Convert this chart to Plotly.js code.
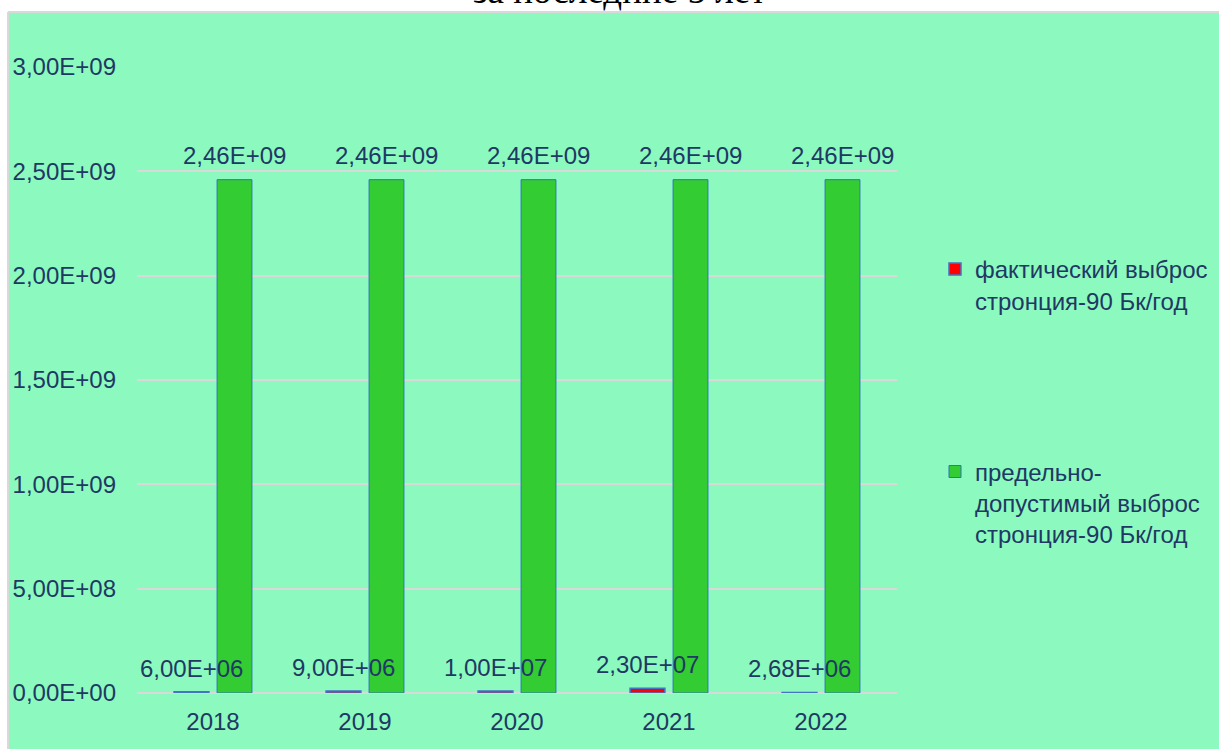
<!DOCTYPE html>
<html><head><meta charset="utf-8">
<script src="https://cdn.plot.ly/plotly-3.0.1.min.js"></script>
<style>html,body{margin:0;padding:0;background:#fff;}#chart{width:1219px;height:749px;}</style>
</head><body><div id="chart"></div>
<script>
const years = ['2018','2019','2020','2021','2022'];
const actual = [6.00e6, 9.00e6, 1.00e7, 2.30e7, 2.68e6];
const actualLabels = ['6,00E+06','9,00E+06','1,00E+07','2,30E+07','2,68E+06'];
const limit = [2.46e9, 2.46e9, 2.46e9, 2.46e9, 2.46e9];
const limitLabels = ['2,46E+09','2,46E+09','2,46E+09','2,46E+09','2,46E+09'];
const yTickVals = [0, 5e8, 1e9, 1.5e9, 2e9, 2.5e9, 3e9];
const yTickText = ['0,00E+00','5,00E+08','1,00E+09','1,50E+09','2,00E+09','2,50E+09','3,00E+09'];
const seriesNames = ['фактический выброс<br>стронция-90 Бк/год','предельно-<br>допустимый выброс<br>стронция-90 Бк/год'];
const titleText = 'за последние 5 лет';

const txt = '#203864';
const fam = '"Liberation Sans", Arial, sans-serif';

const traces = [
  {type:'bar', x:years, y:actual, name:seriesNames[0], legendgroup:'a',
   marker:{color:'#FF0000', line:{color:'#4472C4', width:1.5}}, hoverinfo:'y'},
  {type:'bar', x:years, y:limit, name:seriesNames[1], legendgroup:'b',
   marker:{color:'#33CC33', line:{color:'#2E75B6', width:1}}, hoverinfo:'y'}
];

const annotations = [];
years.forEach((yr,i)=>{
  annotations.push({x:i, y:actual[i], text:actualLabels[i], xref:'x', yref:'y', showarrow:false,
    xshift:-21.5, yanchor:'bottom', yshift:8, font:{size:24, color:txt, family:fam}});
  annotations.push({x:i, y:limit[i], text:limitLabels[i], xref:'x', yref:'y', showarrow:false,
    xshift:21.5, yanchor:'bottom', yshift:9, font:{size:24, color:txt, family:fam}});
});
annotations.push({x:0.6355, y:1.0864, xref:'paper', yref:'paper', xanchor:'center', yanchor:'bottom',
  text:titleText, showarrow:false, font:{size:37, color:'#000', family:'"Liberation Serif", "Times New Roman", serif'}});

const layout = {
  width:1219, height:749,
  margin:{l:137, r:322, t:67, b:56, autoexpand:false},
  paper_bgcolor:'#ffffff', plot_bgcolor:'rgba(0,0,0,0)',
  barmode:'group', bargap:0.434, bargroupgap:0.19,
  showlegend:true,
  legend:{xref:'container', yref:'container', x:935/1219, xanchor:'left', y:1-247/749, yanchor:'top',
    traceorder:'grouped', tracegroupgap:137,
    valign:'top', itemwidth:30, font:{size:24, color:txt, family:fam}, bgcolor:'rgba(0,0,0,0)'},
  xaxis:{type:'category', range:[-0.5,4.5], showgrid:false, zeroline:false, showline:false, ticks:'',
    ticklabelstandoff:12, tickfont:{size:24, color:txt, family:fam}, fixedrange:true},
  yaxis:{range:[0,3e9], tickvals:yTickVals, ticktext:yTickText, showgrid:true, gridcolor:'#D9D9D9', gridwidth:2,
    zeroline:true, zerolinecolor:'#D9D9D9', zerolinewidth:2, showline:false, ticks:'',
    ticklabelstandoff:20, tickfont:{size:24, color:txt, family:fam}, fixedrange:true},
  shapes:[{type:'rect', xref:'paper', yref:'paper', x0:-0.1697, x1:1.43, y0:-0.1, y1:1.0879,
    fillcolor:'#8CFABE', line:{width:0}, layer:'below'},
   {type:'line', xref:'paper', yref:'paper', x0:-0.1697, x1:1.43, y0:1.0879, y1:1.0879, line:{color:'#D9D9D9', width:2}, layer:'below'},
   {type:'line', xref:'paper', yref:'paper', x0:-0.1697, x1:-0.1697, y0:-0.1, y1:1.0879, line:{color:'#D9D9D9', width:2}, layer:'below'}],
  annotations:annotations
};
Plotly.newPlot('chart', traces, layout, {displayModeBar:false, staticPlot:true});
</script></body></html>
